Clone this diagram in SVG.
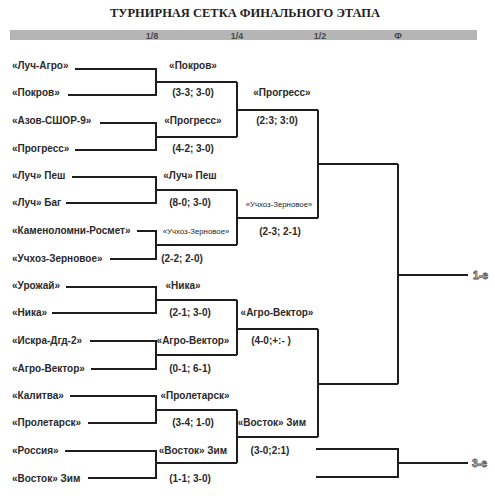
<svg xmlns="http://www.w3.org/2000/svg" width="495" height="499" viewBox="0 0 495 499">
<style>
.t{font-family:"Liberation Sans",Arial,sans-serif;font-weight:bold;font-size:10px;fill:#2a2a2a}
.w{font-family:"Liberation Sans",Arial,sans-serif;font-weight:bold;font-size:10px;fill:#2a2a2a;text-anchor:middle}
.s{font-family:"Liberation Sans",Arial,sans-serif;font-size:7.8px;fill:#1e1e1e;text-anchor:middle}
.h{font-family:"Liberation Sans",Arial,sans-serif;font-weight:bold;font-size:9px;fill:#4a4a4a;text-anchor:middle}
.o{font-family:"Liberation Sans",Arial,sans-serif;font-weight:bold;font-size:10.5px;fill:#fff;stroke:#555;stroke-width:0.8}
.c{fill:none;stroke:#1e1e1e;stroke-width:2}
</style>
<rect width="495" height="499" fill="#fff"/>
<g id="header">
<text x="245" y="17" text-anchor="middle" textLength="270" lengthAdjust="spacingAndGlyphs" style="font-family:'Liberation Serif','Times New Roman',serif;font-weight:bold;font-size:13.5px;fill:#222">ТУРНИРНАЯ СЕТКА ФИНАЛЬНОГО ЭТАПА</text>
<rect x="10" y="30" width="467" height="10" fill="#b5b5b5"/>
<text class="h" x="152" y="38.5">1/8</text>
<text class="h" x="237" y="38.5">1/4</text>
<text class="h" x="320" y="38.5">1/2</text>
<text class="h" x="398" y="38.5">Ф</text>
</g>
<g id="connectors">
<path class="c" d="M75 69H156V95H68M156 82H237"/>
<path class="c" d="M100 123H156V150H75M156 137H237"/>
<path class="c" d="M72 177H156V203H66M156 190H237"/>
<path class="c" d="M137 231H156V259H110M156 245H237"/>
<path class="c" d="M66 287H156V313H52M156 300H237"/>
<path class="c" d="M90 341H156V369H91M156 355H237"/>
<path class="c" d="M70 396H156V423H88M156 410H237"/>
<path class="c" d="M65 451H156V478H88M156 463H237"/>
<path class="c" d="M237 82V137M237 110H318"/>
<path class="c" d="M237 190V245M237 218H318"/>
<path class="c" d="M237 300V355M237 329H318"/>
<path class="c" d="M237 410V463M237 437H318"/>
<path class="c" d="M318 110V218M318 164H398"/>
<path class="c" d="M318 329V437M318 384H398"/>
<path class="c" d="M398 164V384M398 275H468"/>
<path class="c" d="M316 449H398V477H316M398 463H468"/>
</g>
<g id="teams">
<g id="team-luch-agro"><text class="t" x="12" y="69">«Луч-Агро»</text></g>
<g id="team-pokrov"><text class="t" x="12" y="96">«Покров»</text></g>
<g id="team-azov"><text class="t" x="12" y="124">«Азов-СШОР-9»</text></g>
<g id="team-progress"><text class="t" x="12" y="152">«Прогресс»</text></g>
<g id="team-luch-pesh"><text class="t" x="12" y="179">«Луч» Пеш</text></g>
<g id="team-luch-bag"><text class="t" x="12" y="206">«Луч» Баг</text></g>
<g id="team-kamenolomni"><text class="t" x="12" y="234">«Каменоломни-Росмет»</text></g>
<g id="team-uchkhoz"><text class="t" x="12" y="262">«Учхоз-Зерновое»</text></g>
<g id="team-urozhai"><text class="t" x="12" y="289">«Урожай»</text></g>
<g id="team-nika"><text class="t" x="12" y="316">«Ника»</text></g>
<g id="team-iskra"><text class="t" x="12" y="344">«Искра-Дгд-2»</text></g>
<g id="team-agro-vektor"><text class="t" x="12" y="372">«Агро-Вектор»</text></g>
<g id="team-kalitva"><text class="t" x="12" y="399">«Калитва»</text></g>
<g id="team-proletarsk"><text class="t" x="12" y="426">«Пролетарск»</text></g>
<g id="team-rossiya"><text class="t" x="12" y="454">«Россия»</text></g>
<g id="team-vostok"><text class="t" x="12" y="482">«Восток» Зим</text></g>
</g>
<g id="round16">
<g id="m1"><text class="w" x="193" y="69">«Покров»</text><text class="w" x="193" y="96">(3-3; 3-0)</text></g>
<g id="m2"><text class="w" x="193" y="124">«Прогресс»</text><text class="w" x="193" y="152">(4-2; 3-0)</text></g>
<g id="m3"><text class="w" x="190" y="179">«Луч» Пеш</text><text class="w" x="190" y="206">(8-0; 3-0)</text></g>
<g id="m4"><text class="s" x="196" y="234">«Учхоз-Зерновое»</text><text class="w" x="182" y="262">(2-2; 2-0)</text></g>
<g id="m5"><text class="w" x="183" y="289">«Ника»</text><text class="w" x="190" y="316">(2-1; 3-0)</text></g>
<g id="m6"><text class="w" x="193" y="344">«Агро-Вектор»</text><text class="w" x="190" y="372">(0-1; 6-1)</text></g>
<g id="m7"><text class="w" x="195" y="399">«Пролетарск»</text><text class="w" x="193" y="426">(3-4; 1-0)</text></g>
<g id="m8"><text class="w" x="193" y="454">«Восток» Зим</text><text class="w" x="190" y="482">(1-1; 3-0)</text></g>
</g>
<g id="quarter">
<g id="q1"><text class="w" x="282" y="96">«Прогресс»</text><text class="w" x="277" y="124">(2:3; 3:0)</text></g>
<g id="q2"><text class="s" x="279" y="207">«Учхоз-Зерновое»</text><text class="w" x="280" y="235">(2-3; 2-1)</text></g>
<g id="q3"><text class="w" x="277" y="316">«Агро-Вектор»</text><text class="w" x="271" y="344">(4-0;+:- )</text></g>
<g id="q4"><text class="w" x="272" y="426">«Восток» Зим</text><text class="w" x="270" y="454">(3-0;2:1)</text></g>
</g>
<g id="places">
<g id="place-1"><text class="o" x="473" y="279">1-е</text></g>
<g id="place-3"><text class="o" x="472" y="467">3-е</text></g>
</g>
</svg>
